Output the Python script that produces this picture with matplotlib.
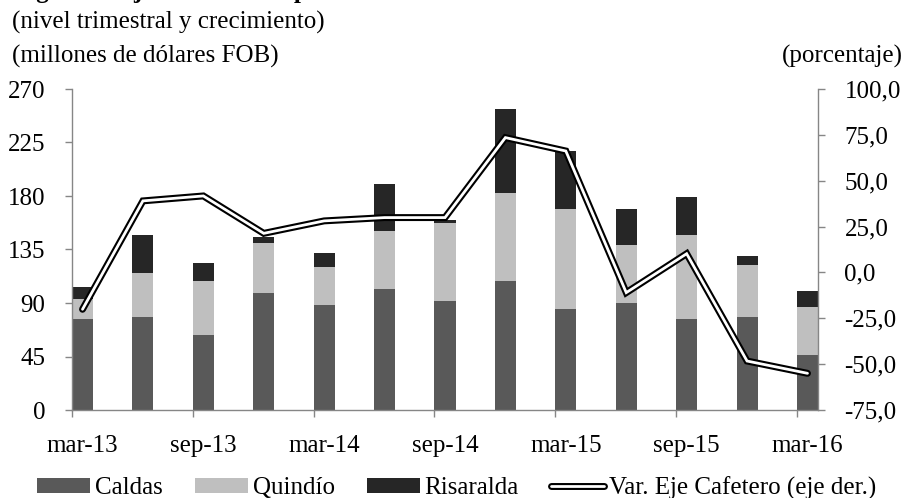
import matplotlib
matplotlib.use("Agg")
import matplotlib.pyplot as plt
from matplotlib.lines import Line2D
from matplotlib.patches import Patch
import numpy as np

plt.rcParams['font.family'] = ['Liberation Serif', 'DejaVu Serif']

periods = ["mar-13", "jun-13", "sep-13", "dic-13", "mar-14", "jun-14", "sep-14",
           "dic-14", "mar-15", "jun-15", "sep-15", "dic-15", "mar-16"]
tick_labels = ["mar-13", "", "sep-13", "", "mar-14", "", "sep-14", "",
               "mar-15", "", "sep-15", "", "mar-16"]
caldas = [76.5, 78.5, 63.0, 98.4, 88.3, 101.8, 92.0, 108.3, 84.9, 90.0, 76.5, 77.9, 46.1]
quindio = [16.9, 36.8, 45.6, 41.9, 31.8, 48.7, 65.2, 74.2, 84.4, 49.2, 70.9, 44.2, 40.2]
risaralda = [9.8, 31.8, 14.9, 5.1, 11.8, 39.9, 2.8, 70.4, 48.4, 29.5, 31.5, 7.8, 13.5]
variacion = [-20.1, 39.0, 41.7, 21.3, 28.1, 29.9, 29.9, 73.5, 66.2, -11.0, 10.2, -48.3, -55.0]

c_caldas = "#595959"
c_quindio = "#BFBFBF"
c_ris = "#262626"
axis_col = "#868686"
FS = 18
LW_OUT = 5.0
LW_IN = 2.0

fig = plt.figure(figsize=(9.06, 4.98), dpi=100)
ax = fig.add_axes([72/906, 1-410/498, (818-72)/906, (410-89)/498])
x = np.arange(len(periods))
bw = 0.348
cal = np.array(caldas); qui = np.array(quindio); ris = np.array(risaralda)
ax.bar(x, cal, bw, color=c_caldas, linewidth=0)
ax.bar(x, qui, bw, bottom=cal, color=c_quindio, linewidth=0)
ax.bar(x, ris, bw, bottom=cal+qui, color=c_ris, linewidth=0)
ax.set_xlim(-bw/2, len(x)-1+bw/2)
ax.set_ylim(0, 270)
ax.set_yticks(np.arange(0, 271, 45))
ax.set_yticklabels([f"{v:d}" for v in range(0, 271, 45)], fontsize=FS)

ax.set_xticks(x[::2] - bw/2)
ax.set_xticklabels([])
ax.set_xticks(x, minor=True)
ax.set_xticklabels(tick_labels, minor=True, fontsize=FS)
ax.tick_params(axis='x', which='major', direction='out', length=5, width=1, color=axis_col)
ax.tick_params(axis='x', which='minor', length=0, pad=18)
ax.tick_params(axis='y', direction='out', length=5, width=1, color=axis_col, pad=14)
for s in ['top', 'right']:
    ax.spines[s].set_visible(False)
for s in ['left', 'bottom']:
    ax.spines[s].set_color(axis_col)
    ax.spines[s].set_linewidth(1)

ax2 = ax.twinx()
ax2.set_ylim(-75, 100)
rt = np.arange(-75, 101, 25)
ax2.set_yticks(rt)
ax2.set_yticklabels([f"{v:.1f}".replace(".", ",") for v in rt], fontsize=FS)
ax2.tick_params(axis='y', direction='out', length=5, width=1, color=axis_col, pad=14)
for s in ['top', 'left', 'bottom']:
    ax2.spines[s].set_visible(False)
ax2.spines['right'].set_color(axis_col)
ax2.spines['right'].set_linewidth(1)
ax2.plot(x, variacion, color='black', lw=LW_OUT, solid_capstyle='round', solid_joinstyle='miter', zorder=3)
ax2.plot(x, variacion, color='white', lw=LW_IN, solid_capstyle='round', solid_joinstyle='miter', zorder=4)

fig.text(12/906, 1-29/498, "(nivel trimestral y crecimiento)", fontsize=FS, ha='left', va='baseline')
fig.text(12/906, 1-63/498, "(millones de dólares FOB)", fontsize=FS, ha='left', va='baseline')
fig.text(903/906, 1-63/498, "(porcentaje)", fontsize=FS, ha='right', va='baseline')
fig.text(14/906, 1+2/498, "Figura 5. Eje Cafetero. Exportaciones no tradicionales",
         fontsize=FS, fontweight='bold', ha='left', va='baseline')

handles = [Patch(color=c_caldas, lw=0), Patch(color=c_quindio, lw=0), Patch(color=c_ris, lw=0),
           (Line2D([], [], color='black', lw=LW_OUT, solid_capstyle='round'),
            Line2D([], [], color='white', lw=LW_IN, solid_capstyle='round'))]
labels = ["Caldas", "Quindío", "Risaralda", "Var. Eje Cafetero (eje der.)"]
fig.legend(handles, labels, loc='lower left', bbox_to_anchor=(36/906, -3/498), ncol=4,
           frameon=False, fontsize=FS, handlelength=2.1, handleheight=0.5,
           handletextpad=0.2, columnspacing=1.3, borderaxespad=0.0, borderpad=0.05)

fig.savefig("out.png", dpi=100)
